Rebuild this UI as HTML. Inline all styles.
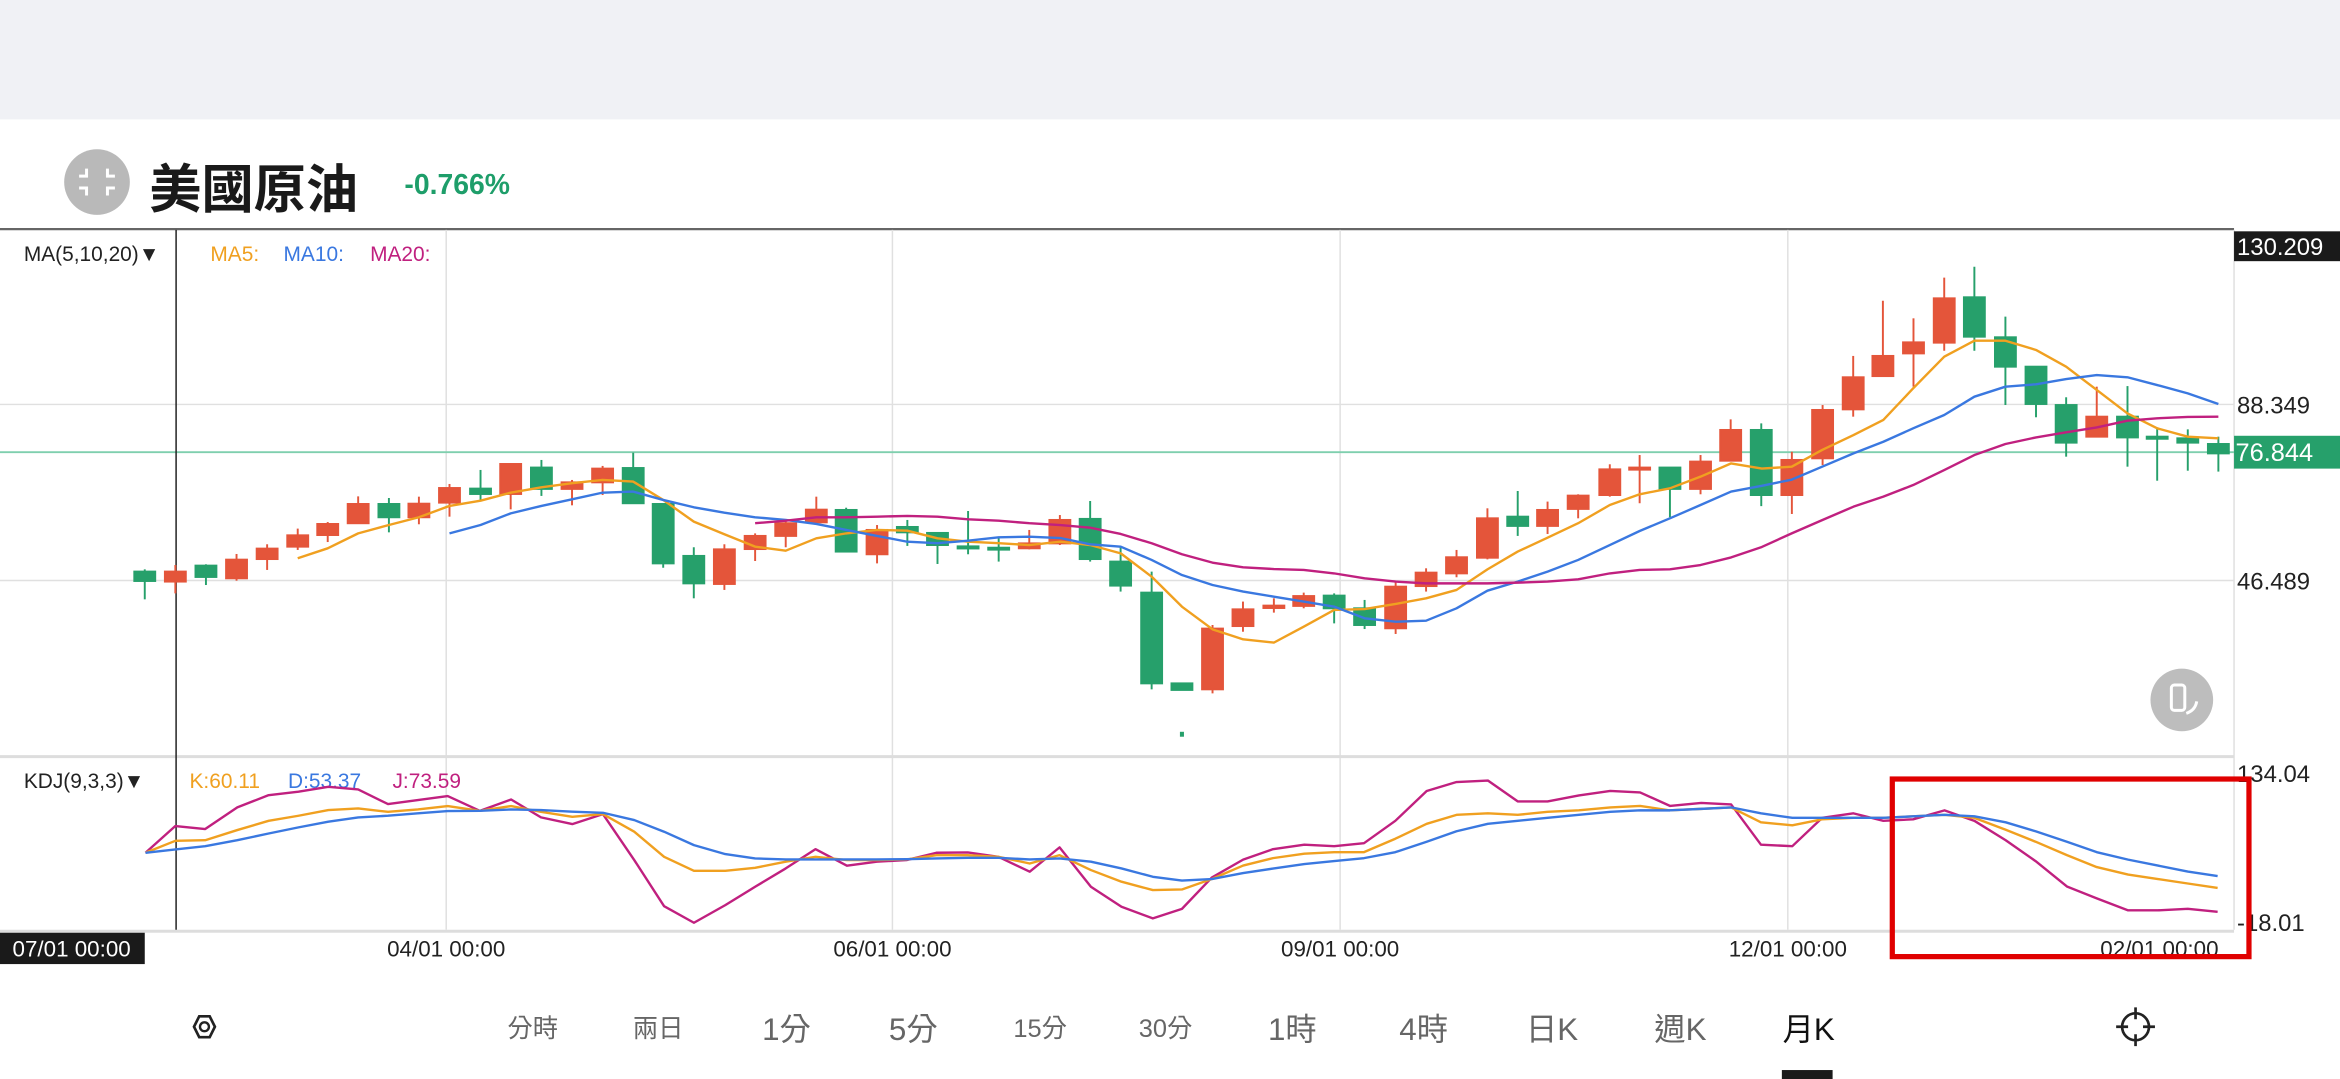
<!DOCTYPE html>
<html><head><meta charset="utf-8"><style>
html,body{margin:0;padding:0;background:#fff;width:2340px;height:1079px;overflow:hidden}
svg{display:block}
text{font-family:"Liberation Sans","Noto Sans CJK TC",sans-serif}
</style></head><body>
<svg width="2340" height="1079" viewBox="0 0 1568 723" preserveAspectRatio="none" xmlns="http://www.w3.org/2000/svg">
<rect x="0" y="0" width="1568" height="80" fill="#f0f1f5"/>
<circle cx="65" cy="122" r="22" fill="#b9b9b9"/>
<g stroke="#fff" stroke-width="2" fill="none">
<path d="M58 113v5h-5M72 113v5h5M58 131v-5h-5M72 131v-5h5"/></g>
<text x="100" y="139" font-size="35" font-weight="bold" fill="#1a1a1a">美國原油</text>
<text x="271" y="130" font-size="19" font-weight="bold" fill="#1e9e6a">-0.766%</text>
<line x1="0" y1="153.5" x2="1497" y2="153.5" stroke="#666" stroke-width="1.5"/>
<!-- grid -->
<g stroke="#e0e0e0" stroke-width="1">
<line x1="0" y1="271" x2="1497" y2="271"/><line x1="0" y1="389" x2="1497" y2="389"/>
<line x1="299" y1="154" x2="299" y2="623"/><line x1="598" y1="154" x2="598" y2="623"/>
<line x1="898" y1="154" x2="898" y2="623"/><line x1="1198" y1="154" x2="1198" y2="623"/>
<line x1="1497" y1="154" x2="1497" y2="623"/>
</g>
<line x1="0" y1="507" x2="1497" y2="507" stroke="#ddd" stroke-width="2"/>
<line x1="0" y1="624" x2="1497" y2="624" stroke="#ddd" stroke-width="2"/>
<line x1="0" y1="303" x2="1497" y2="303" stroke="#7fcfae" stroke-width="1.3"/>
<line x1="118" y1="154" x2="118" y2="623" stroke="#222" stroke-width="1"/>
<text x="16" y="175" font-size="14" fill="#222">MA(5,10,20)▼</text>
<text x="141" y="175" font-size="14" fill="#f0a020">MA5:</text>
<text x="190" y="175" font-size="14" fill="#3a78e0">MA10:</text>
<text x="248" y="175" font-size="14" fill="#c0207f">MA20:</text>
<!-- price axis labels -->
<rect x="1497" y="155" width="71" height="20" fill="#1a1a1a"/>
<text x="1499" y="171" font-size="16" fill="#fff">130.209</text>
<text x="1499" y="277" font-size="16" fill="#222">88.349</text>
<text x="1499" y="395" font-size="16" fill="#222">46.489</text>
<rect x="1497" y="292" width="71" height="22" fill="#26a06b"/>
<text x="1498" y="309" font-size="17" fill="#fff">76.844</text>
<!-- candles -->
<g id="c"></g>
<g stroke-width="1.3">
<g stroke="#e4553a" fill="#e4553a">
<line x1="117.5" y1="378.6" x2="117.5" y2="397.6"/><rect x="110.5" y="383" width="14" height="6.7"/>
<line x1="158.5" y1="371.2" x2="158.5" y2="389.1"/><rect x="151.5" y="375" width="14" height="12.5"/>
<line x1="179" y1="364.7" x2="179" y2="381.9"/><rect x="172" y="367.6" width="14" height="7"/>
<line x1="199.5" y1="354.2" x2="199.5" y2="368.5"/><rect x="192.5" y="358.7" width="14" height="7.6"/>
<line x1="219.6" y1="349.8" x2="219.6" y2="363.2"/><rect x="212.6" y="351.1" width="14" height="7.4"/>
<line x1="240" y1="332.6" x2="240" y2="350.6"/><rect x="233" y="337.7" width="14" height="12.9"/>
<line x1="280.7" y1="332.8" x2="280.7" y2="351.3"/><rect x="273.7" y="337.5" width="14" height="9.1"/>
<line x1="301.2" y1="324.3" x2="301.2" y2="346.2"/><rect x="294.2" y="327" width="14" height="9.8"/>
<line x1="342.2" y1="310.4" x2="342.2" y2="341.3"/><rect x="335.2" y="310.9" width="14" height="20.1"/>
<line x1="383.3" y1="321.6" x2="383.3" y2="338.6"/><rect x="376.3" y="323.2" width="14" height="4.4"/>
<line x1="403.8" y1="312.2" x2="403.8" y2="331.7"/><rect x="396.8" y="314" width="14" height="9.2"/>
<line x1="485.4" y1="364.7" x2="485.4" y2="395.3"/><rect x="478.4" y="368.1" width="14" height="23.2"/>
<line x1="506" y1="357.4" x2="506" y2="375.9"/><rect x="499" y="359.1" width="14" height="8.8"/>
<line x1="526.5" y1="348.4" x2="526.5" y2="366.7"/><rect x="519.5" y="350.6" width="14" height="8.5"/>
<line x1="547" y1="332.8" x2="547" y2="350.6"/><rect x="540" y="341.5" width="14" height="8.5"/>
<line x1="587.7" y1="351.8" x2="587.7" y2="377.5"/><rect x="580.7" y="355.1" width="14" height="16.3"/>
<line x1="689.7" y1="355.1" x2="689.7" y2="368.1"/><rect x="682.7" y="364.1" width="14" height="3.3"/>
<line x1="710.2" y1="345.1" x2="710.2" y2="365.2"/><rect x="703.2" y="348.4" width="14" height="15.7"/>
<line x1="812.5" y1="418.8" x2="812.5" y2="464.6"/><rect x="805.5" y="421.2" width="14" height="40.7"/>
<line x1="832.9" y1="403.1" x2="832.9" y2="423.3"/><rect x="825.9" y="408.3" width="14" height="11.2"/>
<line x1="853.6" y1="400.9" x2="853.6" y2="410.5"/><rect x="846.6" y="405.8" width="14" height="1.6"/>
<line x1="873.6" y1="397.1" x2="873.6" y2="407.6"/><rect x="866.6" y="399.4" width="14" height="6.6"/>
<line x1="935.2" y1="389.7" x2="935.2" y2="424.8"/><rect x="928.2" y="393.1" width="14" height="27.9"/>
<line x1="955.6" y1="380.8" x2="955.6" y2="396.4"/><rect x="948.6" y="383.7" width="14" height="9"/>
<line x1="976" y1="368.5" x2="976" y2="386.8"/><rect x="969" y="373.4" width="14" height="10.8"/>
<line x1="996.7" y1="340.6" x2="996.7" y2="374.8"/><rect x="989.7" y="347.3" width="14" height="26.4"/>
<line x1="1037" y1="336.1" x2="1037" y2="357.8"/><rect x="1030" y="341.7" width="14" height="10.7"/>
<line x1="1057.5" y1="331.2" x2="1057.5" y2="347.3"/><rect x="1050.5" y="332.1" width="14" height="8.9"/>
<line x1="1078.7" y1="311.1" x2="1078.7" y2="332.8"/><rect x="1071.7" y="314.5" width="14" height="17.2"/>
<line x1="1098.7" y1="304.9" x2="1098.7" y2="337.2"/><rect x="1091.7" y="313.3" width="14" height="1.4"/>
<line x1="1139.5" y1="304.9" x2="1139.5" y2="331.2"/><rect x="1132.5" y="309.3" width="14" height="18.3"/>
<line x1="1159.7" y1="281" x2="1159.7" y2="308.7"/><rect x="1152.7" y="288.1" width="14" height="20.6"/>
<line x1="1200.7" y1="302.7" x2="1200.7" y2="344.4"/><rect x="1193.7" y="308.2" width="14" height="23.5"/>
<line x1="1221.3" y1="271.4" x2="1221.3" y2="311.6"/><rect x="1214.3" y="274.7" width="14" height="32.4"/>
<line x1="1241.8" y1="238.5" x2="1241.8" y2="279.2"/><rect x="1234.8" y="252.8" width="14" height="21.5"/>
<line x1="1261.7" y1="201.5" x2="1261.7" y2="252"/><rect x="1254.7" y="238.5" width="14" height="13.5"/>
<line x1="1282.2" y1="213.3" x2="1282.2" y2="259.1"/><rect x="1275.2" y="229.4" width="14" height="7.4"/>
<line x1="1302.8" y1="186" x2="1302.8" y2="235"/><rect x="1295.8" y="199.9" width="14" height="29.7"/>
<line x1="1405" y1="259.1" x2="1405" y2="292.6"/><rect x="1398" y="279.2" width="14" height="13.4"/>
</g>
<g stroke="#26a06b" fill="#26a06b">
<line x1="97" y1="381.5" x2="97" y2="401.6"/><rect x="90" y="383" width="14" height="6.3"/>
<line x1="138" y1="378.1" x2="138" y2="392"/><rect x="131" y="379" width="14" height="7.6"/>
<line x1="260.6" y1="333.7" x2="260.6" y2="356.7"/><rect x="253.6" y="337.7" width="14" height="8.9"/>
<line x1="322" y1="314.9" x2="322" y2="335"/><rect x="315" y="327.4" width="14" height="3.6"/>
<line x1="362.8" y1="308.2" x2="362.8" y2="332.3"/><rect x="355.8" y="313.3" width="14" height="14.3"/>
<line x1="424.3" y1="303.3" x2="424.3" y2="337.2"/><rect x="417.3" y="313.6" width="14" height="23.6"/>
<line x1="444.4" y1="337.7" x2="444.4" y2="380.4"/><rect x="437.4" y="337.7" width="14" height="39.8"/>
<line x1="464.9" y1="366.7" x2="464.9" y2="400.9"/><rect x="457.9" y="372.5" width="14" height="18.4"/>
<line x1="567" y1="340.2" x2="567" y2="369.6"/><rect x="560" y="341.7" width="14" height="27.9"/>
<line x1="608" y1="348.4" x2="608" y2="365.8"/><rect x="601" y="353.1" width="14" height="3.6"/>
<line x1="628.2" y1="357.1" x2="628.2" y2="377.9"/><rect x="621.2" y="357.1" width="14" height="8.1"/>
<line x1="648.7" y1="342.4" x2="648.7" y2="371.4"/><rect x="641.7" y="366.1" width="14" height="1.4"/>
<line x1="669.2" y1="360.3" x2="669.2" y2="376.3"/><rect x="662.2" y="367" width="14" height="1.3"/>
<line x1="730.5" y1="335.7" x2="730.5" y2="376.3"/><rect x="723.5" y="347.7" width="14" height="26.9"/>
<line x1="750.9" y1="366.3" x2="750.9" y2="396.4"/><rect x="743.9" y="376.3" width="14" height="16.1"/>
<line x1="771.7" y1="383" x2="771.7" y2="461.9"/><rect x="764.7" y="397.1" width="14" height="60.8"/>
<rect x="785" y="457.9" width="14" height="4.4"/><rect x="791.3" y="491" width="1.4" height="2"/>
<line x1="894" y1="397.6" x2="894" y2="417.7"/><rect x="887" y="399.1" width="14" height="8.5"/>
<line x1="914.4" y1="402" x2="914.4" y2="421.5"/><rect x="907.4" y="407.6" width="14" height="11.2"/>
<line x1="1017" y1="329" x2="1017" y2="359.1"/><rect x="1010" y="346.2" width="14" height="6.2"/>
<line x1="1119" y1="313.3" x2="1119" y2="346.6"/><rect x="1112" y="313.3" width="14" height="14.3"/>
<line x1="1180.2" y1="283.7" x2="1180.2" y2="339.1"/><rect x="1173.2" y="288.1" width="14" height="43.6"/>
<line x1="1323" y1="178.7" x2="1323" y2="235"/><rect x="1316" y="199.2" width="14" height="26.4"/>
<line x1="1343.8" y1="212.2" x2="1343.8" y2="271.4"/><rect x="1336.8" y="226" width="14" height="19.7"/>
<line x1="1364.3" y1="245.7" x2="1364.3" y2="279.6"/><rect x="1357.3" y="245.7" width="14" height="25"/>
<line x1="1384.5" y1="266.2" x2="1384.5" y2="306"/><rect x="1377.5" y="271.4" width="14" height="25.2"/>
<line x1="1425.6" y1="258.7" x2="1425.6" y2="312.7"/><rect x="1418.6" y="279.2" width="14" height="13.9"/>
<line x1="1445.5" y1="286.4" x2="1445.5" y2="322.1"/><rect x="1438.5" y="292.6" width="14" height="1.4"/>
<line x1="1466" y1="287.7" x2="1466" y2="315.4"/><rect x="1459" y="293.7" width="14" height="2.9"/>
<line x1="1486.5" y1="292.6" x2="1486.5" y2="316"/><rect x="1479.5" y="297.5" width="14" height="6.3"/>
</g></g>
<!-- MA lines -->
<g fill="none" stroke-width="1.6" stroke-linejoin="round">
<polyline stroke="#f0a020" points="199.5,374.1 219.6,367.4 240,357.4 260.6,351.8 280.7,346.6 301.2,339 322,335.5 342.2,330.1 362.8,326.5 383.3,323.8 403.8,321.6 424.3,322.7 444.4,335 464.9,349.5 485.4,358 506,366.3 526.5,369 547,360.7 567,357.4 587.7,355.1 608,355.6 628.2,360.7 648.7,363 669.2,364 689.7,365.2 710.5,363 730.5,365.2 751,370.8 771.7,386.4 792,406.5 812.5,421.7 833,428.4 853.6,430.6 873.6,419.9 894,408.7 914.4,408.1 935.2,404.7 955.6,400.9 976,395.3 996.7,381.5 1017,369.6 1037,360.3 1057.5,350.6 1078.7,338.4 1098.7,331.2 1119,327.2 1139.5,319.4 1160,310.5 1180.6,314 1200.6,312.7 1221,301.5 1242,291.5 1262,281.4 1282,260.2 1302.8,239 1323,228.3 1343.8,228.3 1364.3,234.5 1384.5,245.7 1405,261.3 1425.6,277 1445.5,287 1466,292.6 1486.5,293.7"/>
<polyline stroke="#3a78e0" points="301.2,357.4 322,351.8 342.2,344 362.8,339 383.3,334.6 403.8,330.1 424.3,329.4 444.4,335 464.9,339.9 485.4,343.5 506,346.6 526.5,348.4 547,351.1 567,355.1 587.7,359.1 608,363 628.2,364 648.7,362.3 669.2,360 689.7,359.6 710.5,360.5 730.5,364.7 751,366.3 771.7,375.2 792,385.3 812.5,392 833,396.4 853.6,399.8 873.6,403.1 894,406.5 914.4,414.3 935.2,416.6 955.6,415.9 976,407.6 996.7,395.8 1017,389.7 1037,383 1057.5,375.2 1078.7,365.2 1098.7,355.8 1119,347.3 1139.5,338.4 1160,329.4 1180.6,325.5 1200.6,321.4 1221,312.7 1242,303.8 1262,296 1282,287 1302.8,278.1 1323,265.8 1343.8,259.1 1364.3,257.5 1384.5,254 1405,251.3 1425.6,252.8 1445.5,258 1466,263.6 1486.5,270.7"/>
<polyline stroke="#c0207f" points="506,350.6 526.5,348.9 547,346.6 567,346.6 587.7,346.2 608,345.7 628.2,346.2 648.7,348 669.2,348.9 689.7,350.6 710.5,351.8 730.5,353.6 751,357.8 771.7,364 792,371.4 812.5,377 833,380.1 853.6,381.3 873.6,381.9 894,384.2 914.4,387.5 935.2,389.7 955.6,390.9 976,390.9 996.7,390.9 1017,390.4 1037,389.7 1057.5,388.2 1078.7,384.2 1098.7,381.9 1119,381.5 1139.5,378.6 1160,373.5 1180.6,366.5 1200.6,357.4 1221,348.5 1242,339.5 1262,332.8 1282,325 1302.8,315 1323,304.9 1343.8,297.5 1364.3,293.1 1384.5,289.7 1405,286.4 1425.6,281.9 1445.5,280.3 1466,279.4 1486.5,279.2"/>
</g>
<circle cx="1462" cy="469" r="21" fill="#bdbdbd"/>
<rect x="1455" y="459" width="9" height="17" rx="2" fill="none" stroke="#fff" stroke-width="2"/>
<path d="M1465 478 q6 -2 7 -8" fill="none" stroke="#fff" stroke-width="2"/>
<!-- KDJ -->
<text x="16" y="528" font-size="14" fill="#222">KDJ(9,3,3)▼</text>
<text x="127" y="528" font-size="14" fill="#f0a020">K:60.11</text>
<text x="193" y="528" font-size="14" fill="#3a78e0">D:53.37</text>
<text x="263" y="528" font-size="14" fill="#c0207f">J:73.59</text>
<text x="1499" y="524" font-size="16" fill="#222">134.04</text>
<text x="1499" y="624" font-size="16" fill="#222">-18.01</text>
<g fill="none" stroke-width="1.6" stroke-linejoin="round">
<polyline stroke="#c0207f" points="97.5,571.4 117.5,553.5 137.5,555.5 159,541 180,532.8 200,530.5 220,527.2 240,529 260,538.8 280,536.1 300,533.4 321.5,543.3 342.5,535.7 362.5,547.7 383.5,552.2 404,545.5 425,576.3 445,607.2 465,618.3 486,606.5 506,594.2 526.5,581.9 546.5,569 567.5,580.1 587.5,577.4 607.5,576.3 627.5,571.4 648.5,571.2 669,574.1 690,584.1 710,567.8 731,594.2 751.5,607.6 772.5,615.4 792,609 812,588 833,576 853,569 874,566 894,567 914,565 935,550 956,530 976,524 997,523 1017,537 1037,537 1058,533 1079,530 1099,531 1119,540 1140,538 1160,539 1180,566 1201,567 1221,548 1242,545 1262,550 1282,549 1303,543 1323,550 1344,563 1364,577 1385,594 1405,602 1426,610 1446,610 1466,609 1486,611"/>
<polyline stroke="#f0a020" points="97.5,571.4 117.5,563.4 137.5,563 159,556.2 180,550 200,546.6 220,542.8 240,541.7 260,544 280,542.4 300,540.1 321.5,543.3 342.5,540.1 362.5,544 383.5,547.3 404,545.5 425,557.3 445,574.1 465,583.5 486,583.5 506,581.5 526.5,577.4 546.5,574.1 567.5,576.3 587.5,576.3 607.5,575.9 627.5,573 648.5,573 669,574.1 690,578.6 710,573 731,583 751.5,590.8 772.5,596.4 792,596 812,589 833,580 853,575 874,572 894,571 914,571 935,562 956,552 976,546 997,545 1017,546 1037,544 1058,543 1079,541 1099,540 1119,543 1140,542 1160,541 1180,551 1201,553 1221,549 1242,548 1262,548 1282,547 1303,546 1323,548 1344,556 1364,564 1385,573 1405,581 1426,586 1446,589 1466,592 1486,595"/>
<polyline stroke="#3a78e0" points="97.5,571.4 117.5,569.2 137.5,567 159,563 180,558.5 200,554.4 220,550.6 240,547.7 260,546.6 280,545 300,543.5 321.5,543.3 342.5,542.4 362.5,542.8 383.5,543.9 404,544.6 425,549.5 445,557.3 465,566.3 486,572.3 506,575.2 526.5,575.9 546.5,575.9 567.5,575.9 587.5,575.9 607.5,575.7 627.5,575.2 648.5,574.8 669,574.8 690,575.9 710,575.2 731,577.4 751.5,581.9 772.5,587.5 792,590 812,589 833,585 853,582 874,579 894,577 914,575 935,571 956,564 976,557 997,552 1017,550 1037,548 1058,546 1079,544 1099,543 1119,543 1140,542 1160,541 1180,545 1201,548 1221,548 1242,548 1262,548 1282,547 1303,546 1323,547 1344,551 1364,557 1385,564 1405,571 1426,576 1446,580 1466,584 1486,587"/>
</g>
<!-- date axis -->
<rect x="0" y="625" width="97" height="21" fill="#1a1a1a"/>
<text x="48" y="641" font-size="15" fill="#fff" text-anchor="middle">07/01 00:00</text>
<g font-size="15" fill="#222" text-anchor="middle">
<text x="299" y="641">04/01 00:00</text><text x="598" y="641">06/01 00:00</text>
<text x="898" y="641">09/01 00:00</text><text x="1198" y="641">12/01 00:00</text>
<text x="1447" y="641">02/01 00:00</text></g>
<rect x="1268" y="522" width="239" height="119" fill="none" stroke="#e00000" stroke-width="3.5"/>
<!-- toolbar -->
<polygon points="130,688 133.5,681 140.5,681 144,688 140.5,695 133.5,695" fill="none" stroke="#222" stroke-width="1.8"/>
<circle cx="137" cy="688" r="3" fill="none" stroke="#222" stroke-width="1.6"/>
<g fill="#666" text-anchor="middle">
<text x="357" y="695" font-size="17">分時</text>
<text x="441" y="695" font-size="17">兩日</text>
<text x="527" y="697" font-size="21">1分</text>
<text x="612" y="697" font-size="21">5分</text>
<text x="697" y="695" font-size="17">15分</text>
<text x="781" y="695" font-size="17">30分</text>
<text x="866" y="697" font-size="21">1時</text>
<text x="954" y="697" font-size="21">4時</text>
<text x="1040" y="697" font-size="21">日K</text>
<text x="1126" y="697" font-size="21">週K</text>
<text x="1212" y="697" font-size="21" fill="#111">月K</text>
</g>
<rect x="1194" y="717" width="34" height="6" fill="#1a1a1a"/>
<circle cx="1431" cy="688" r="9" fill="none" stroke="#222" stroke-width="1.8"/>
<path d="M1431 675v8M1431 693v8M1418 688h8M1436 688h8" stroke="#222" stroke-width="1.8"/>
</svg>
</body></html>
